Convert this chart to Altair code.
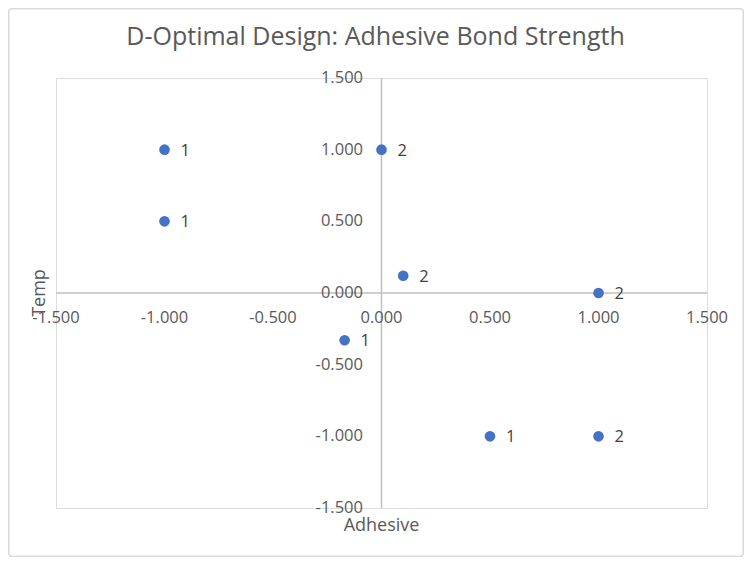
import altair as alt
import pandas as pd

# Data
adhesive = [-1.0, -1.0, 0.0, 0.1, 1.0, -0.17, 0.5, 1.0]
temp = [1.0, 0.5, 1.0, 0.12, 0.0, -0.33, -1.0, -1.0]
counts = ["1", "1", "2", "2", "2", "1", "1", "2"]
tick_values = [-1.5, -1.0, -0.5, 0.0, 0.5, 1.0, 1.5]
tick_labels = ["-1.500", "-1.000", "-0.500", "0.000", "0.500", "1.000", "1.500"]
chart_title = "D-Optimal Design: Adhesive Bond Strength"
x_title = "Adhesive"
y_title = "Temp"

pts = pd.DataFrame({"Adhesive": adhesive, "Temp": temp, "n": counts})
ticks = pd.DataFrame({"v": tick_values, "lab": tick_labels, "zero": [0.0] * len(tick_values)})
zero = pd.DataFrame({"z": [0.0]})
one = pd.DataFrame({"b": [0]})

FONT = "Open Sans"
GREY = "#595959"
xs = alt.Scale(domain=[-1.5, 1.5], nice=False, zero=False)
ys = alt.Scale(domain=[-1.5, 1.5], nice=False, zero=False)

common = dict(values=tick_values, labels=False, ticks=False, domain=False, grid=True,
              gridColor="#d9d9d9", gridWidth=1.3, title="")

points = alt.Chart(pts).mark_circle(size=113, color="#4472C4", opacity=1).encode(
    x=alt.X("Adhesive:Q", scale=xs, axis=alt.Axis(**common)),
    y=alt.Y("Temp:Q", scale=ys, axis=alt.Axis(**common)),
)

labels = alt.Chart(pts).mark_text(align="left", baseline="middle", dx=16, dy=1, font=FONT,
                                  fontSize=16.5, color="#404040").encode(
    x=alt.X("Adhesive:Q", axis=None), y=alt.Y("Temp:Q", axis=None), text="n:N")

hzero = alt.Chart(zero).mark_rule(color="#bfbfbf", strokeWidth=1.5).encode(
    y=alt.Y("z:Q", axis=None))
vzero = alt.Chart(zero).mark_rule(color="#bfbfbf", strokeWidth=1.5).encode(
    x=alt.X("z:Q", axis=None))

xlab = alt.Chart(ticks).mark_text(baseline="middle", dy=25, font=FONT, fontSize=16.5,
                                  color=GREY).encode(
    x=alt.X("v:Q", axis=None), y=alt.Y("zero:Q", axis=None), text="lab:N")
ylab = alt.Chart(ticks).mark_text(align="right", baseline="middle", dx=-18.5, font=FONT,
                                  fontSize=16.5, color=GREY).encode(
    x=alt.X("zero:Q", axis=None), y=alt.Y("v:Q", axis=None), text="lab:N")

title_mark = alt.Chart(one).mark_text(text=chart_title, font=FONT, fontSize=25, color=GREY,
                                      align="center", baseline="alphabetic").encode(
    x=alt.value(319.5), y=alt.value(-33))
xtitle_mark = alt.Chart(one).mark_text(text=x_title, font=FONT, fontSize=18, color=GREY,
                                       align="center", baseline="middle").encode(
    x=alt.value(325.5), y=alt.value(448))
ytitle_mark = alt.Chart(one).mark_text(text=y_title, font=FONT, fontSize=18, color=GREY,
                                       align="center", baseline="middle", angle=270).encode(
    x=alt.value(-16), y=alt.value(215))

border = alt.Chart(one).mark_rect(fillOpacity=0, stroke="#d9d9d9", strokeWidth=1.5,
                                  cornerRadius=3).encode(
    x=alt.value(-47.25), x2=alt.value(687.25), y=alt.value(-69.25), y2=alt.value(478.25))

chart = alt.layer(hzero, vzero, points, labels, xlab, ylab,
                  title_mark, xtitle_mark, ytitle_mark, border).properties(
    width=651, height=430,
    autosize=alt.AutoSizeParams(type="none"),
    padding={"left": 48, "top": 70, "right": 37, "bottom": 49},
).configure_view(stroke=None).configure(background="white")

chart.save("out.html", embed_options={"renderer": "svg", "actions": False})
